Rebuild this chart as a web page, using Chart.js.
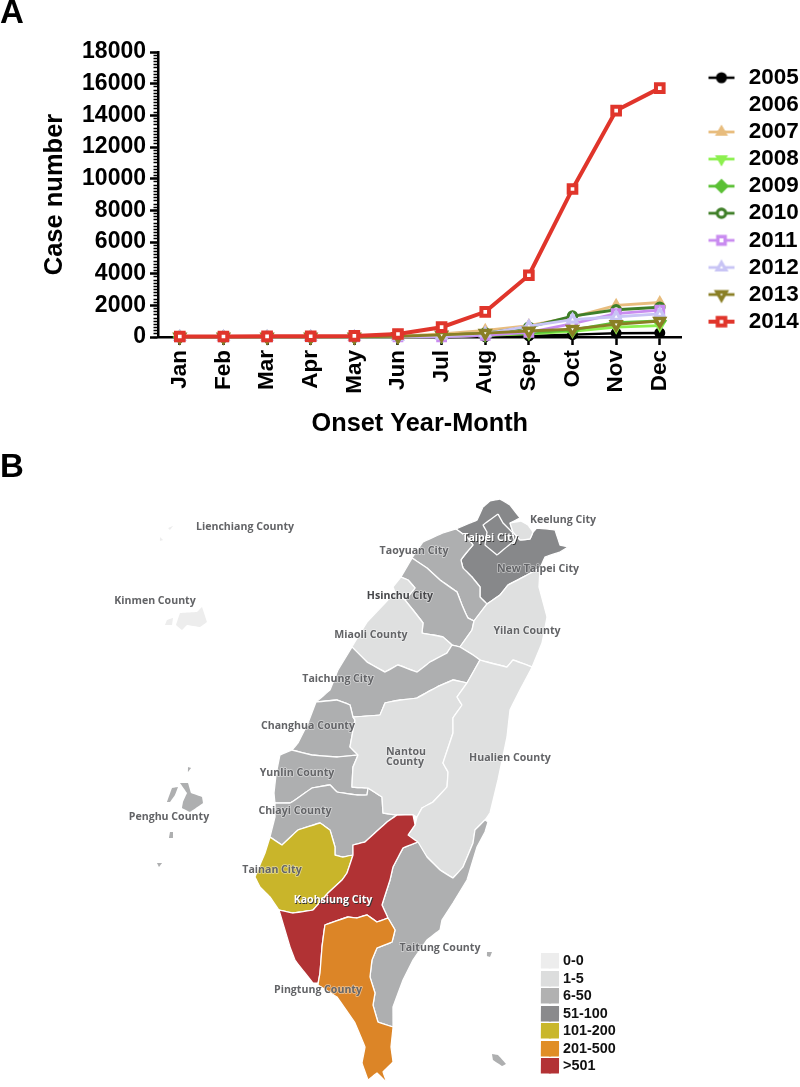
<!DOCTYPE html>
<html><head><meta charset="utf-8">
<script src="https://cdn.jsdelivr.net/npm/chart.js@4"></script>
<style>html,body{margin:0;padding:0;background:#fff}canvas{position:absolute;left:0}</style>
</head><body>
<canvas id="a" width="800" height="460" style="top:0"></canvas>
<canvas id="b" width="800" height="647" style="top:440px"></canvas>
<script>
const months=['Jan','Feb','Mar','Apr','May','Jun','Jul','Aug','Sep','Oct','Nov','Dec'];
const years=['2005','2006','2007','2008','2009','2010','2011','2012','2013','2014'];
const y2005=[2,2,2,2,2,3,5,30,70,150,240,260];
const y2006=[2,2,2,2,2,5,20,100,300,700,1200,1280];
const y2007=[5,5,5,5,8,60,200,420,720,1250,2000,2180];
const y2008=[2,2,2,2,2,5,30,110,200,350,620,720];
const y2009=[5,5,5,5,5,10,40,130,250,450,900,1020];
const y2010=[5,5,5,5,8,30,120,250,620,1320,1720,1880];
const y2011=[3,3,3,3,3,5,15,100,300,850,1480,1700];
const y2012=[5,5,5,5,5,20,80,220,680,1100,1280,1460];
const y2013=[5,5,5,5,5,40,130,250,380,500,800,1000];
const y2014=[30,35,40,50,70,190,620,1590,3900,9350,14300,15720];
const seriesValues=[y2005,y2006,y2007,y2008,y2009,y2010,y2011,y2012,y2013,y2014];
const seriesColors=['#000000','#ffffff','#e8bd7e','#8cf04f','#5bc035','#3f7f28','#c98cf0','#c8c4f5','#8a7f25','#e0352b'];
const seriesStyles=['circle','circle','triangle','triangle','rectRot','circle','rect','triangle','triangle','rect'];
const seriesRotation=[0,0,0,180,0,0,0,0,180,0];
const seriesHollow=[false,false,false,false,false,true,true,true,true,true];
const seriesRadius=[4.5,4.5,5.5,5.5,6,4.2,5.2,5,5.2,5.4];
const seriesWidth=[2.5,2.5,2.8,2.8,2.8,2.8,2.8,2.8,2.8,4];
const seriesPointBorder=[2,2,2,2,2,3.2,3.4,3.2,3.6,4];
const yTicksMajor=2000, yTicksMinor=200, yMax=18000;
const LABEL_FONT='"Liberation Sans", Arial, sans-serif';

function legendImage(i){
  const c=document.createElement('canvas');c.width=28;c.height=20;const x=c.getContext('2d');
  x.strokeStyle=seriesColors[i];x.lineWidth=seriesWidth[i];
  x.beginPath();x.moveTo(1,10);x.lineTo(27,10);x.stroke();
  x.fillStyle=seriesHollow[i]?'#fff':seriesColors[i];x.lineWidth=seriesPointBorder[i];
  Chart.helpers.drawPoint(x,{pointStyle:seriesStyles[i],rotation:seriesRotation[i],radius:seriesRadius[i],borderWidth:seriesPointBorder[i]},14,10);
  return c;
}
const placeLegend={id:'placeLegend',beforeDraw(ch){
  const l=ch.legend,p=l.options.labels.padding; l.left=705.5-p; l.top=66.5-p; l.right=800; l.bottom=460;
}};
const panelA={id:'panelA',afterDraw(ch){const c=ch.ctx;c.save();c.font='bold 33px '+LABEL_FONT;c.fillStyle='#000';c.textAlign='left';c.textBaseline='alphabetic';c.fillText('A',0,23);c.restore();}};

new Chart(document.getElementById('a'),{
  type:'line',
  data:{labels:months,datasets:years.map((y,i)=>({
    label:y,data:seriesValues[i],order:9-i,borderColor:seriesColors[i],borderWidth:seriesWidth[i],
    pointStyle:seriesStyles[i],pointRotation:seriesRotation[i],pointRadius:seriesRadius[i],
    pointBackgroundColor:seriesHollow[i]?'#ffffff':seriesColors[i],pointBorderColor:seriesColors[i],
    pointBorderWidth:seriesPointBorder[i],tension:0,clip:false,fill:false
  }))},
  plugins:[placeLegend,panelA],
  options:{responsive:false,animation:false,
    layout:{padding:{top:52,left:0,bottom:0,right:10.5}},
    plugins:{tooltip:{enabled:false},legend:{display:true,position:'right',align:'start',
      labels:{color:'#000',font:{family:LABEL_FONT,weight:'bold',size:22.5},padding:4.6,usePointStyle:true,pointStyleWidth:32,
        generateLabels:()=>years.map((y,i)=>({text:y,pointStyle:legendImage(i),fontColor:'#000',datasetIndex:i,lineWidth:0,strokeStyle:'transparent',fillStyle:'transparent'}))}}},
    scales:{
      x:{type:'category',offset:true,
        grid:{drawOnChartArea:false,drawTicks:true,tickLength:8,tickWidth:2.5,tickColor:'#000'},
        border:{display:true,color:'#000',width:2.5},
        ticks:{color:'#000',font:{family:LABEL_FONT,weight:'bold',size:22.5},minRotation:90,maxRotation:90,autoSkip:false,padding:5},
        title:{display:true,text:'Onset Year-Month',color:'#000',font:{family:LABEL_FONT,weight:'bold',size:25.3},padding:{top:4,bottom:21}},
        afterFit(s){s.height=123;}},
      y:{type:'linear',position:'left',min:0,max:yMax,weight:1,
        grid:{drawOnChartArea:false,drawTicks:true,tickLength:8,tickWidth:2.5,tickColor:'#000'},
        border:{display:true,color:'#000',width:2.5},
        ticks:{color:'#000',stepSize:yTicksMajor,autoSkip:false,font:{family:LABEL_FONT,weight:'bold',size:23},padding:4,callback:v=>String(v)},
        title:{display:true,text:'Case number',color:'#000',font:{family:LABEL_FONT,weight:'bold',size:25.5},padding:{top:40,bottom:0}},
        afterFit(s){s.width=158;}},
      yMinor:{type:'linear',axis:'y',position:'left',min:0,max:yMax,weight:0,
        grid:{drawOnChartArea:false,drawTicks:true,tickLength:4.5,tickWidth:1.5,tickColor:'#000'},
        border:{display:false},
        ticks:{display:false,stepSize:yTicksMinor,autoSkip:false},
        afterFit(s){s.width=0;}}
    }}
});

/* ---- Panel B: map, outlines in axis units ---- */
const COL_ZERO='#ededed',COL_LOW='#dfe0e0',COL_MID='#aeafb0',COL_DARK='#87888a',COL_GOLD='#c9b52a',COL_ORANGE='#dc8527',COL_RED='#b13234';
const keelung=[510,523,521,521,528,525,533,532,530,539,520,540,513,532];
const taipei=[498,514,483,525,487,532,485,545,497,555,503,550,515,540,512,532,503,523];
const newTaipei=[456,529,470,523,477,520,483,507,490,501,500,499,510,505,520,518,510,523,513,532,520,540,530,539,533,532,537,528,555,530,560,545,568,547,560,552,545,557,540,568,527,575,508,585,500,595,487,604,480,597,480,587,472,577,463,568,461,560,467,552,473,545,467,537];
const taoyuan=[456,529,443,533,423,542,412,558,427,568,440,580,457,592,462,605,468,618,474,621,487,604,480,597,480,587,472,577,463,568,461,560,467,552,473,545,467,537];
const hsinchuCity=[401,577,408,580,415,588,405,600,395,592,393,587];
const hsinchuCounty=[412,558,427,568,440,580,457,592,462,605,468,618,474,621,472,630,460,647,452,645,443,637,433,635,422,633,423,623,413,610,405,600,415,588,408,580,401,577];
const miaoli=[395,592,385,603,367,622,352,647,367,662,385,672,398,665,417,672,430,662,447,653,452,645,443,637,433,635,422,633,423,623,413,610,405,600];
const taichung=[352,647,338,670,330,690,316,702,337,700,350,705,353,717,380,715,385,703,400,700,417,698,437,687,453,680,467,683,480,660,473,655,460,647,452,645,447,653,430,662,417,672,398,665,385,672,367,662];
const yilan=[487,604,500,595,508,585,527,575,540,568,539,587,547,617,542,643,532,667,513,660,507,667,487,662,480,660,473,655,460,647,472,630,474,621];
const hualien=[480,660,487,662,507,667,513,660,532,667,520,690,510,710,507,737,498,780,490,813,485,820,475,830,473,843,463,867,453,878,440,870,427,857,417,845,408,835,415,825,417,817,422,808,433,802,447,787,448,772,443,763,453,733,453,718,462,705,457,697,467,683];
const nantou=[353,717,380,715,385,703,400,700,417,698,437,687,453,680,467,683,457,697,462,705,453,718,453,733,443,763,448,772,447,787,433,802,422,808,417,817,413,815,397,815,383,813,382,797,368,788,352,787,353,767,358,755,350,747,355,720];
const changhua=[316,702,308,723,298,743,292,750,312,755,337,757,358,755,350,747,355,720,353,717,350,705,337,700];
const yunlin=[292,750,280,755,276,775,274,793,275,803,290,803,295,800,312,788,330,785,337,792,357,795,367,795,368,788,352,787,353,767,358,755,337,757,312,755];
const chiayi=[275,803,275,817,270,837,282,845,298,830,320,823,330,830,335,847,335,855,343,857,353,855,353,845,365,842,387,822,397,815,383,813,382,797,368,788,367,795,357,795,337,792,330,785,312,788,295,800,290,803];
const tainan=[270,837,282,845,298,830,320,823,330,830,335,847,335,855,343,857,353,855,347,873,342,880,328,893,313,910,293,913,279,910,270,897,260,887,255,877,265,853];
const kaohsiung=[279,910,293,913,313,910,328,893,342,880,347,873,353,855,353,845,365,842,387,822,397,815,413,815,415,825,408,835,418,842,403,848,393,867,390,880,382,905,388,918,377,922,367,915,357,918,348,917,325,925,322,947,320,973,318,983,313,983,305,973,295,960,290,947];
const pingtung=[388,918,377,922,367,915,357,918,348,917,325,925,322,947,320,973,318,985,337,997,355,1023,365,1047,362,1063,368,1080,377,1073,387,1083,383,1072,393,1062,391,1047,393,1027,378,1022,373,1005,375,993,370,977,372,960,377,948,392,942,395,930];
const taitung=[418,842,427,857,440,870,453,878,463,867,473,843,475,830,485,820,488,822,485,832,477,847,470,870,467,880,453,903,442,920,440,930,427,940,413,960,403,980,393,1007,393,1027,378,1022,373,1005,375,993,370,977,372,960,377,948,392,942,395,930,388,918,382,905,390,880,393,867,403,848];
const penghuA=[180,783,188,783,191,793,202,797,203,803,190,812,182,808,183,802,187,793];
const penghuB=[172,788,178,787,175,795,170,802,167,802];
const penghuC=[170,832,173,832,173,838,169,838];
const penghuD=[157,863,162,863,159,867];
const penghuE=[188,767,191,768,188,772];
const kinmenA=[180,613,197,612,202,607,207,622,200,627,187,625,182,630,176,625];
const kinmenB=[167,620,173,618,172,625,165,625];
const matsuA=[160,537,163,540,160,541];
const matsuB=[168,528,173,526,170,530];
const orchid=[492,1054,498,1055,506,1064,502,1066,493,1060];
const greenIs=[487,952,492,952,490,957,487,956];

const landPolys=[[pingtung,COL_ORANGE],[kaohsiung,COL_RED],[tainan,COL_GOLD],[taitung,COL_MID],[hualien,COL_LOW],[nantou,COL_LOW],[chiayi,COL_MID],[yunlin,COL_MID],[changhua,COL_MID],[taichung,COL_MID],[yilan,COL_LOW],[miaoli,COL_LOW],[hsinchuCity,COL_LOW],[hsinchuCounty,COL_MID],[taoyuan,COL_MID],[keelung,COL_LOW],[taipei,COL_DARK],[newTaipei,COL_DARK]];
const islePolys=[[penghuA,COL_MID],[penghuB,COL_MID],[penghuC,COL_MID],[penghuD,COL_MID],[penghuE,COL_MID],[kinmenA,COL_ZERO],[kinmenB,COL_ZERO],[matsuA,COL_ZERO],[matsuB,COL_ZERO],[orchid,COL_MID],[greenIs,COL_MID]];

const legendBins=['0-0','1-5','6-50','51-100','101-200','201-500','>501'];
const legendColors=['#ededed','#dcdddd','#b1b1b1','#8a8a8c','#c9b72b','#e08e26','#b33235'];
const legendTops=[953,971,988,1006,1023,1041,1058];
const SW_L=541,SW_R=559,SW_H=15.6,LEG_TX=563;

const placeNames=['Lienchiang County','Kinmen County','Keelung City','Taoyuan City','Hsinchu City','New Taipei City','Yilan County','Miaoli County','Taichung City','Changhua County','Nantou','County','Yunlin County','Hualien County','Chiayi County','Penghu County','Tainan City','Taitung County','Pingtung County'];
const placeX=[245,155,563,414,400,538,527,371,338,308,406,405,297,510,295,169,272,440,318];
const placeY=[527,601,520,551,596,569,631,635,679,726,752,762,773,758,811,817,870,948,990];
const whiteNames=['Taipei City','Kaohsiung City'];
const whiteX=[490,333];
const whiteY=[538,900];

function toPts(f){const o=[];for(let i=0;i<f.length;i+=2)o.push({x:f[i],y:f[i+1]});o.push({x:f[0],y:f[1]});return o;}
const polyDs=(f,col,line)=>({data:toPts(f),showLine:true,fill:'shape',tension:0.02,backgroundColor:col,borderColor:line,borderWidth:line=='#ffffff'?1.3:0,pointRadius:0});
const mapSets=[...landPolys.map(p=>polyDs(p[0],p[1],'#ffffff')),...islePolys.map(p=>polyDs(p[0],p[1],p[1])),
  ...legendTops.map((t,i)=>polyDs([SW_L,t,SW_R,t,SW_R,t+SW_H,SW_L,t+SW_H],legendColors[i],legendColors[i]))];

const mapText={id:'mapText',afterDatasetsDraw(ch){
  const c=ch.ctx,X=ch.scales.x,Y=ch.scales.y;c.save();c.textAlign='center';c.textBaseline='middle';c.lineJoin='round';
  c.font='bold 10.6px "Open Sans", sans-serif';
  placeNames.forEach((n,i)=>{const x=X.getPixelForValue(placeX[i]),y=Y.getPixelForValue(placeY[i]);
    c.strokeStyle='rgba(255,255,255,.5)';c.lineWidth=1.5;c.strokeText(n,x,y);c.fillStyle=n=='Hsinchu City'?'#46474a':'#636467';c.fillText(n,x,y);});
  whiteNames.forEach((n,i)=>{const x=X.getPixelForValue(whiteX[i]),y=Y.getPixelForValue(whiteY[i]);
    c.fillStyle='#333';c.fillText(n,x+.8,y+.8);c.fillStyle='#fff';c.fillText(n,x,y);});
  c.textAlign='left';c.font='bold 14.4px '+LABEL_FONT;c.fillStyle='#111';
  legendBins.forEach((n,i)=>c.fillText(n,X.getPixelForValue(LEG_TX),Y.getPixelForValue(legendTops[i]+SW_H/2+.5)));
  c.font='bold 33px '+LABEL_FONT;c.fillStyle='#000';c.textBaseline='alphabetic';c.fillText('B',0,Y.getPixelForValue(477));
  c.restore();
}};
new Chart(document.getElementById('b'),{
  type:'scatter',data:{datasets:mapSets},plugins:[mapText],
  options:{responsive:false,animation:false,layout:{padding:0},
    plugins:{legend:{display:false},tooltip:{enabled:false}},
    scales:{x:{type:'linear',min:0,max:800,display:false},y:{type:'linear',min:440,max:1087,reverse:true,display:false}}}
});
</script>
</body></html>
